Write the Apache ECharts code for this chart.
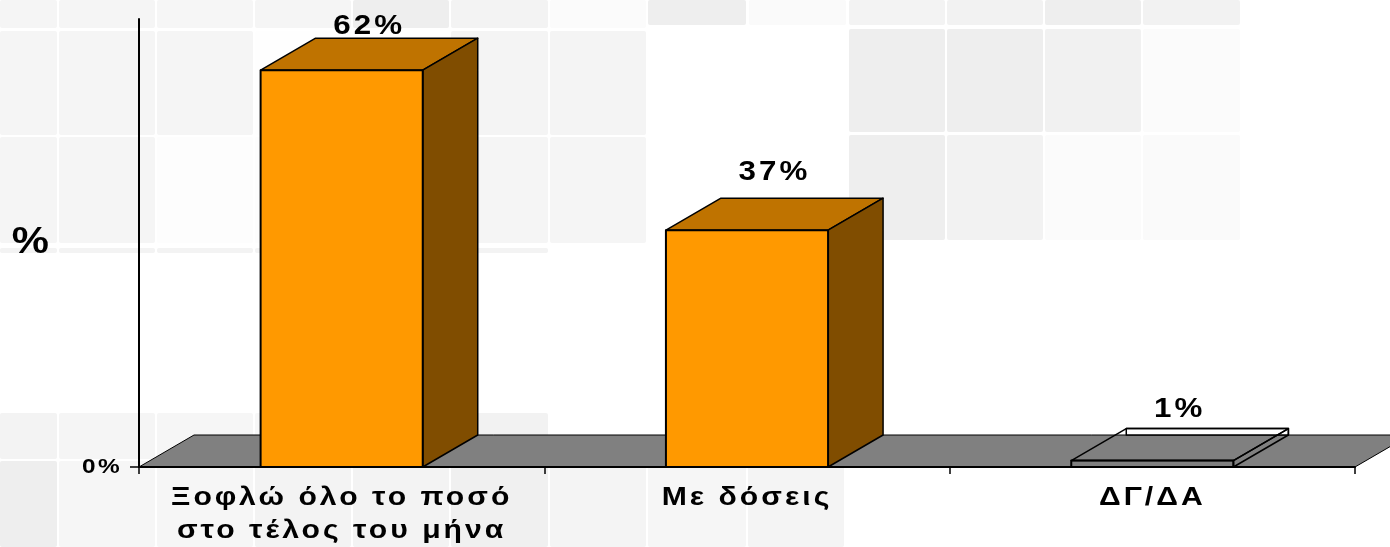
<!DOCTYPE html>
<html>
<head>
<meta charset="utf-8">
<style>html,body{margin:0;padding:0;background:#fff}#c{width:1390px;height:547px}</style>
<script src="https://cdn.jsdelivr.net/npm/echarts@6/dist/echarts.min.js"></script>
</head>
<body>
<div id="c"></div>
<script>
const categories = ['Ξοφλώ όλο το ποσό\nστο τέλος του μήνα', 'Με δόσεις', 'ΔΓ/ΔΑ'];
const shares = [62, 37, 1];
const hollowBar = [false, false, true];
const labelLift = [12, 26, 19];
const yTicks = [0];
const FONT = '"Liberation Sans", Arial, sans-serif';
const DX = 55, DY = 32;

// faint tiled backdrop: [x, y, w, h, grey]
const tiles = [
 [0,0,57,28,245],[59,0,96,28,245],[157,0,96,28,246],[255,0,96,28,245],[353,0,96,28,238],[451,0,97,28,243],[550,0,96,28,251],
 [0,31,57,104,245],[59,31,96,104,245],[157,31,96,104,245],[255,31,96,104,254],[451,31,97,104,244],[550,31,96,104,244],
 [0,137,57,106,245],[59,137,96,106,245],[157,137,96,106,253],[255,137,96,106,253],[451,137,97,106,245],[550,137,96,106,245],
 [0,248,57,5,243],[59,248,96,5,243],[157,248,96,5,243],[255,248,96,5,243],[451,248,97,5,243],
 [648,0,98,25,238],[749,0,97,25,250],[849,0,96,25,243],[947,0,96,25,242],[1045,0,96,25,238],[1143,0,97,25,242],
 [849,29,96,103,238],[947,29,96,103,238],[1045,29,96,103,241],[1143,29,97,103,251],
 [849,135,96,105,238],[947,135,96,105,242],[1045,135,96,105,251],[1143,135,97,105,250],
 [0,413,57,46,243],[59,413,96,46,245],[157,413,96,46,246],[255,413,96,46,247],[353,413,96,46,246],[451,413,97,46,242],
 [0,461,57,86,238],[59,461,96,86,246],[157,461,96,86,246],[255,461,96,86,243],[353,461,96,86,243],[451,461,97,86,240],[550,461,96,86,244],[648,461,98,86,246],[748,461,96,86,244]
];

// the reference's text is slightly stretched and tracked
const baseFillText = CanvasRenderingContext2D.prototype.fillText;
CanvasRenderingContext2D.prototype.fillText = function (text, x, y, ...rest) {
  const size = parseFloat((this.font.match(/([\d.]+)px/) || [0, 20])[1]);
  this.save();
  this.letterSpacing = (size * 0.1).toFixed(2) + 'px';
  this.translate(x, y);
  this.scale(1.16, 1);
  baseFillText.call(this, text, 0, 0, ...rest);
  this.restore();
};

const chart = echarts.init(document.getElementById('c'), null, {renderer:'canvas'});

function poly(points, fill, lw) {
  return {type:'polygon', shape:{points}, style:{fill, stroke:'#000', lineWidth:lw, lineJoin:'round'}};
}
function renderFloor(params, api) {
  const g = params.coordSys, x0 = g.x, x1 = g.x + g.width, y = g.y + g.height;
  return poly([[x0,y],[x0+DX,y-DY],[x1+DX,y-DY],[x1,y]], '#808080', 1);
}
function renderBar(params, api) {
  const i = api.value(0), v = api.value(1);
  const top = api.coord([i, v]), base = api.coord([i, 0]);
  const w = api.size([1, 0])[0] * 0.4, l = top[0] - w / 2, r = top[0] + w / 2, t = top[1], b = base[1];
  const hollow = hollowBar[i];
  const front = hollow ? 'rgba(0,0,0,0)' : '#ff9900';
  const lid = hollow ? 'rgba(0,0,0,0)' : '#bf7300';
  const side = hollow ? 'rgba(0,0,0,0)' : '#804d00';
  const wall = hollow ? [poly([[l+DX,b-DY],[l+DX,t-DY],[r+DX,t-DY],[r+DX,b-DY]], '#fff', 1.5)] : [];
  return {type:'group', children: wall.concat([
    poly([[l,t],[l+DX,t-DY],[r+DX,t-DY],[r,t]], lid, 1.5),
    poly([[r,t],[r+DX,t-DY],[r+DX,b-DY],[r,b]], side, 1.5),
    poly([[l,t],[r,t],[r,b],[l,b]], front, 2),
    {type:'text', style:{text:v + '%', x:top[0]+DX/2, y:t-DY-labelLift[i], align:'center', verticalAlign:'middle',
      font:'bold 27px ' + FONT, fill:'#000'}}
  ])};
}

chart.setOption({
  animation:false,
  backgroundColor:'#fff',
  graphic: tiles.map(t => ({type:'rect', silent:true, z:-10, shape:{x:t[0],y:t[1],width:t[2],height:t[3],r:2},
    style:{fill:`rgb(${t[4]},${t[4]},${t[4]})`}})),
  grid:{left:139, top:19, width:1216, height:449},
  xAxis:{type:'category', data:categories, z:5,
    axisLine:{lineStyle:{color:'#000', width:2}},
    axisTick:{show:true, length:7, lineStyle:{color:'#000', width:1.5}},
    axisLabel:{color:'#000', fontFamily:FONT, fontWeight:'bold', fontSize:26, lineHeight:33, margin:14, interval:0},
    splitLine:{show:false}},
  yAxis:{type:'value', min:0, max:70, interval:70, z:5,
    name:'%', nameLocation:'middle', nameRotate:0, nameGap:86,
    nameTextStyle:{color:'#000', fontFamily:FONT, fontWeight:'bold', fontSize:36, padding:[14,0,0,0]},
    axisLine:{show:true, onZero:false, lineStyle:{color:'#000', width:2}},
    axisTick:{show:true, length:9, customValues:yTicks, lineStyle:{color:'#000', width:1.5}},
    axisLabel:{color:'#000', fontFamily:FONT, fontWeight:'bold', fontSize:21, margin:17, padding:[4,0,0,0],
      customValues:yTicks, formatter:v => v + '%'},
    splitLine:{show:false}},
  series:[
    {type:'custom', z:1, silent:true, data:[[0]], renderItem:renderFloor, clip:false},
    {type:'custom', z:10, data:shares.map((v,i)=>[i,v]), encode:{x:0,y:1}, renderItem:renderBar, clip:false}
  ]
});
</script>
</body>
</html>
